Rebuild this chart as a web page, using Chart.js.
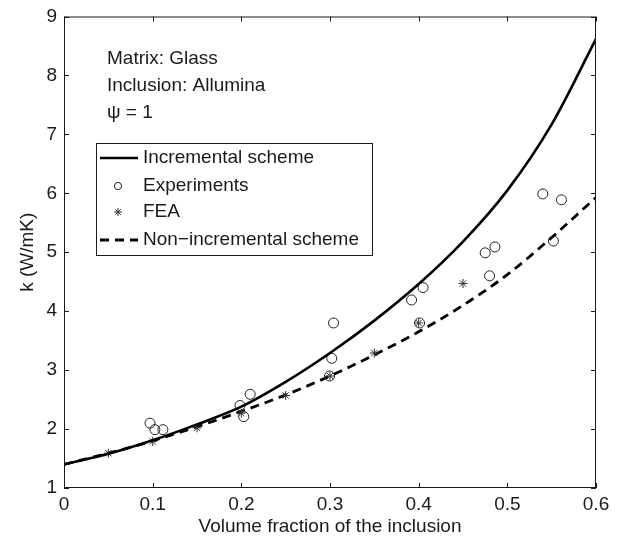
<!DOCTYPE html>
<html>
<head>
<meta charset="utf-8">
<script src="https://cdn.jsdelivr.net/npm/chart.js@4.4.1/dist/chart.umd.min.js"></script>
<style>
  body{margin:0;background:#fff;}
  #wrap{width:622px;height:544px;}
</style>
</head>
<body>
<div id="wrap"><canvas id="kChart" width="622" height="544"></canvas></div>
<script>
// values
const xTicks = [0, 0.1, 0.2, 0.3, 0.4, 0.5, 0.6];
const yTicks = [1, 2, 3, 4, 5, 6, 7, 8, 9];

const curveX      = [0, 0.05, 0.1, 0.15, 0.2, 0.25, 0.3, 0.35, 0.4, 0.45, 0.5, 0.55, 0.6];
const incremental = [1.40, 1.58, 1.81, 2.08, 2.38, 2.80, 3.29, 3.84, 4.46, 5.18, 6.05, 7.17, 8.62];
const nonIncr     = [1.40, 1.59, 1.80, 2.04, 2.30, 2.58, 2.90, 3.26, 3.65, 4.10, 4.62, 5.25, 5.93];

const expX = [0.097, 0.1025, 0.1115, 0.1985, 0.2027, 0.210, 0.2995, 0.302, 0.304, 0.392, 0.401, 0.405, 0.475, 0.480, 0.486, 0.540, 0.552, 0.561];
const expY = [2.10, 1.99, 1.99, 2.40, 2.21, 2.59, 2.90, 3.20, 3.80, 4.19, 3.80, 4.40, 4.99, 4.60, 5.09, 5.99, 5.19, 5.89];

const feaX = [0.05, 0.10, 0.15, 0.20, 0.25, 0.30, 0.35, 0.40, 0.45];
const feaY = [1.59, 1.79, 2.02, 2.27, 2.57, 2.90, 3.29, 3.80, 4.47];

const noteLines = ['Matrix: Glass', 'Inclusion: Allumina', '\u03c8 = 1'];

const FONT = '"Liberation Sans", Arial, Helvetica, sans-serif';
const INK = '#1a1a1a';

const pts = (xs, ys) => xs.map((x, i) => ({x: x, y: ys[i]}));

// marker looks, shared by the plot and the legend
const markers = {
  Experiments: {pointStyle: 'circle', radius: 5, legendRadius: 3.6, borderWidth: 1, rotation: 0},
  FEA: {pointStyle: 'star', radius: 4.5, legendRadius: 4, borderWidth: 1, rotation: 0}
};

// frame, inward ticks, text note and legend
const decor = {
  id: 'decor',
  afterDraw(chart){
    const ctx = chart.ctx;
    const a = chart.chartArea;
    const sx = chart.scales.x, sy = chart.scales.y;
    ctx.save();
    ctx.strokeStyle = INK;
    ctx.lineWidth = 1;
    ctx.strokeRect(a.left + 0.5, a.top + 0.5, a.right - a.left - 1, a.bottom - a.top - 1);
    ctx.beginPath();
    xTicks.forEach(v=>{
      const p = Math.round(sx.getPixelForValue(v)) + 0.5;
      ctx.moveTo(p, a.bottom); ctx.lineTo(p, a.bottom - 5);
      ctx.moveTo(p, a.top); ctx.lineTo(p, a.top + 5);
    });
    yTicks.forEach(v=>{
      const p = Math.round(sy.getPixelForValue(v)) + 0.5;
      ctx.moveTo(a.left, p); ctx.lineTo(a.left + 5, p);
      ctx.moveTo(a.right, p); ctx.lineTo(a.right - 5, p);
    });
    ctx.stroke();

    // note
    ctx.fillStyle = INK;
    ctx.font = '19px ' + FONT;
    ctx.textBaseline = 'middle';
    ctx.textAlign = 'left';
    noteLines.forEach((t, i)=> ctx.fillText(t, 107, 59 + i * 27));

    // legend box
    const L = 96, T = 143, R = 372, B = 255;
    ctx.fillStyle = '#fff';
    ctx.fillRect(L, T, R - L, B - T);
    ctx.strokeRect(L + 0.5, T + 0.5, R - L, B - T);
    const rows = [158, 186, 212, 240];
    chart.data.datasets.forEach((d, i)=>{
      const y = rows[i];
      ctx.strokeStyle = d.borderColor;
      const m = markers[d.label];
      if (m) {
        ctx.fillStyle = 'rgba(0,0,0,0)';
        ctx.lineWidth = m.borderWidth;
        Chart.helpers.drawPoint(ctx, Object.assign({}, m, {radius: m.legendRadius}), 118, y);
      } else {
        ctx.lineWidth = d.borderWidth;
        ctx.setLineDash(d.borderDash || []);
        ctx.beginPath();
        ctx.moveTo(100, y); ctx.lineTo(138, y);
        ctx.stroke();
        ctx.setLineDash([]);
      }
      ctx.fillStyle = INK;
      ctx.fillText(d.label, 143, y);
    });
    ctx.restore();
  }
};

const ctx = document.getElementById('kChart').getContext('2d');
new Chart(ctx, {
  type: 'line',
  data: {
    datasets: [
      {label: 'Incremental scheme', data: pts(curveX, incremental), borderColor: '#000', borderWidth: 2.6,
       pointRadius: 0, cubicInterpolationMode: 'monotone', fill: false},
      {label: 'Experiments', data: pts(expX, expY), showLine: false, borderColor: '#222',
       backgroundColor: 'rgba(0,0,0,0)', pointStyle: markers.Experiments.pointStyle,
       pointRadius: markers.Experiments.radius, pointBorderWidth: 1},
      {label: 'FEA', data: pts(feaX, feaY), showLine: false, borderColor: '#333', backgroundColor: '#333',
       pointStyle: markers.FEA.pointStyle, pointRadius: markers.FEA.radius, pointBorderWidth: 1},
      {label: 'Non\u2212incremental scheme', data: pts(curveX, nonIncr), borderColor: '#000', borderWidth: 2.8,
       borderDash: [9, 6], pointRadius: 0, cubicInterpolationMode: 'monotone', fill: false}
    ]
  },
  options: {
    responsive: false,
    animation: false,
    devicePixelRatio: 1,
    layout: { padding: {top: 13, right: 26, left: 0, bottom: 0} },
    plugins: { legend: {display: false}, tooltip: {enabled: false} },
    scales: {
      x: {
        type: 'linear', min: 0, max: 0.6,
        afterBuildTicks: s => { s.ticks = xTicks.map(v => ({value: v})); },
        afterFit: s => { s.height = 56; },
        grid: {display: false, drawTicks: false},
        border: {display: false},
        ticks: {color: INK, font: {family: FONT, size: 19, lineHeight: 1}, padding: 7.5, maxRotation: 0,
                callback: v => String(+v.toFixed(1))},
        title: {display: true, text: 'Volume fraction of the inclusion', color: INK,
                font: {family: FONT, size: 19, lineHeight: 1}, padding: {top: 0, bottom: 7.5}}
      },
      y: {
        type: 'linear', min: 1, max: 9,
        afterBuildTicks: s => { s.ticks = yTicks.map(v => ({value: v})); },
        afterFit: s => { s.width = 64; },
        grid: {display: false, drawTicks: false},
        border: {display: false},
        ticks: {color: INK, font: {family: FONT, size: 19, lineHeight: 1}, padding: 7},
        title: {display: true, text: 'k (W/mK)', color: INK,
                font: {family: FONT, size: 19, lineHeight: 1}, padding: {top: 18.5, bottom: 0}}
      }
    }
  },
  plugins: [decor]
});
</script>
</body>
</html>
